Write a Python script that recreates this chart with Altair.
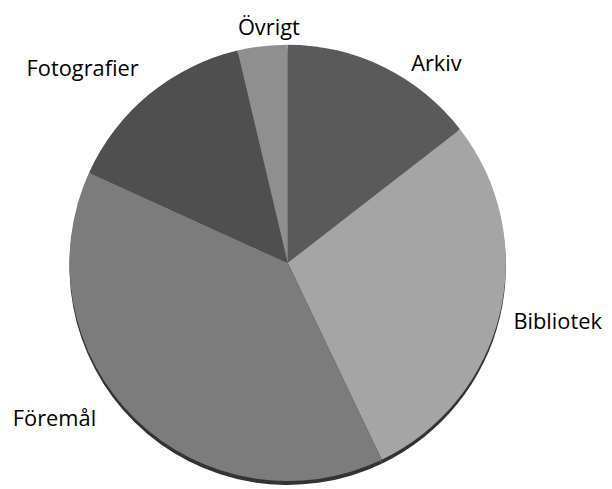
import altair as alt
import pandas as pd

categories = ["Arkiv", "Bibliotek", "Föremål", "Fotografier", "Övrigt"]
shares = [14.5, 28.4, 38.9, 14.5, 3.7]
colors = ["#5a5a5a", "#a5a5a5", "#7c7c7c", "#4f4f4f", "#8f8f8f"]

df = pd.DataFrame({"kategori": categories, "andel": shares, "ordning": list(range(len(categories)))})

CX, CY = 282, 255  # pie centre in plot coordinates
R = 220

theta = alt.Theta("andel:Q", stack=True)
order = alt.Order("ordning:Q")

shadow = alt.Chart(df).mark_arc(radius=R, color="#333333").encode(
    theta=theta, order=order, x=alt.value(CX), y=alt.value(CY + 4)
)

pie = alt.Chart(df).mark_arc(radius=R, strokeWidth=0).encode(
    theta=theta,
    order=order,
    color=alt.Color("kategori:N", scale=alt.Scale(domain=categories, range=colors), legend=None),
    x=alt.value(CX), y=alt.value(CY),
)

label_nudge = {
    "Arkiv": (40, 24),
    "Bibliotek": (29, 2),
    "Föremål": (-60, -21),
    "Fotografier": (-48, -2),
    "Övrigt": (10, 12),
}

labels = []
for name in categories:
    dx, dy = label_nudge[name]
    labels.append(
        alt.Chart(df).mark_text(
            radius=250, font="Open Sans", fontSize=22, color="black",
            align="center", baseline="middle", dx=dx, dy=dy,
        ).encode(
            theta=theta, order=order, text="kategori:N",
            x=alt.value(CX), y=alt.value(CY),
            opacity=alt.condition(alt.datum.kategori == name, alt.value(1), alt.value(0)),
        )
    )

chart = alt.layer(shadow, pie, *labels).properties(
    width=601, height=477, padding=0, autosize=alt.AutoSizeParams(type="none")
).configure_view(stroke=None)

chart.save("out.html", embed_options={"renderer": "svg", "actions": False})
